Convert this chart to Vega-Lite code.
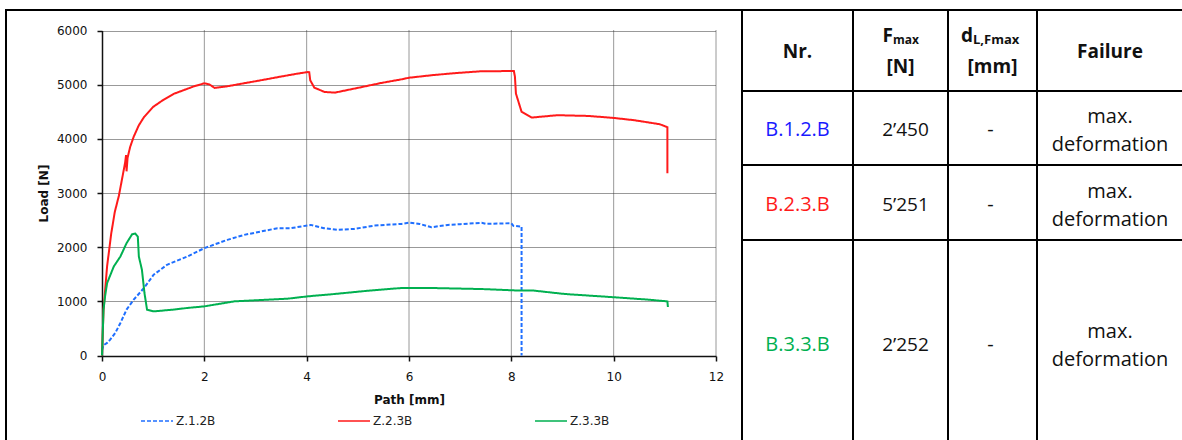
{
  "$schema": "https://vega.github.io/schema/vega-lite/v6.json",
  "padding": {"left": 5, "top": 9, "right": 0, "bottom": 0},
  "background": "white",
  "datasets": {
    "curves": [
      {"series": "Z.1.2B", "path": 0, "load": 100}, {"series": "Z.1.2B", "path": 0.03, "load": 190}, {"series": "Z.1.2B", "path": 0.1, "load": 233}, {"series": "Z.1.2B", "path": 0.16, "load": 294}, {"series": "Z.1.2B", "path": 0.26, "load": 417}, {"series": "Z.1.2B", "path": 0.36, "load": 601}, {"series": "Z.1.2B", "path": 0.48, "load": 847}, {"series": "Z.1.2B", "path": 0.62, "load": 1031}, {"series": "Z.1.2B", "path": 0.82, "load": 1246}, {"series": "Z.1.2B", "path": 1.01, "load": 1491}, {"series": "Z.1.2B", "path": 1.27, "load": 1675}, {"series": "Z.1.2B", "path": 1.67, "load": 1828}, {"series": "Z.1.2B", "path": 2.0, "load": 1982}, {"series": "Z.1.2B", "path": 2.45, "load": 2135}, {"series": "Z.1.2B", "path": 2.78, "load": 2227}, {"series": "Z.1.2B", "path": 3.1, "load": 2288}, {"series": "Z.1.2B", "path": 3.43, "load": 2350}, {"series": "Z.1.2B", "path": 3.69, "load": 2350}, {"series": "Z.1.2B", "path": 4.08, "load": 2411}, {"series": "Z.1.2B", "path": 4.34, "load": 2350}, {"series": "Z.1.2B", "path": 4.61, "load": 2319}, {"series": "Z.1.2B", "path": 4.93, "load": 2337}, {"series": "Z.1.2B", "path": 5.33, "load": 2398}, {"series": "Z.1.2B", "path": 5.85, "load": 2429}, {"series": "Z.1.2B", "path": 6.01, "load": 2453}, {"series": "Z.1.2B", "path": 6.21, "load": 2429}, {"series": "Z.1.2B", "path": 6.44, "load": 2368}, {"series": "Z.1.2B", "path": 6.76, "load": 2411}, {"series": "Z.1.2B", "path": 7.0, "load": 2425}, {"series": "Z.1.2B", "path": 7.42, "load": 2450}, {"series": "Z.1.2B", "path": 7.5, "load": 2430}, {"series": "Z.1.2B", "path": 8.0, "load": 2442}, {"series": "Z.1.2B", "path": 8.04, "load": 2393}, {"series": "Z.1.2B", "path": 8.2, "load": 2380}, {"series": "Z.1.2B", "path": 8.2, "load": 0},
      {"series": "Z.2.3B", "path": 0, "load": 0}, {"series": "Z.2.3B", "path": 0.03, "load": 850}, {"series": "Z.2.3B", "path": 0.1, "load": 1650}, {"series": "Z.2.3B", "path": 0.18, "load": 2250}, {"series": "Z.2.3B", "path": 0.25, "load": 2650}, {"series": "Z.2.3B", "path": 0.33, "load": 2950}, {"series": "Z.2.3B", "path": 0.4, "load": 3300}, {"series": "Z.2.3B", "path": 0.45, "load": 3550}, {"series": "Z.2.3B", "path": 0.47, "load": 3700}, {"series": "Z.2.3B", "path": 0.48, "load": 3400}, {"series": "Z.2.3B", "path": 0.5, "load": 3650}, {"series": "Z.2.3B", "path": 0.55, "load": 3850}, {"series": "Z.2.3B", "path": 0.62, "load": 4040}, {"series": "Z.2.3B", "path": 0.72, "load": 4250}, {"series": "Z.2.3B", "path": 0.82, "load": 4400}, {"series": "Z.2.3B", "path": 1.0, "load": 4590}, {"series": "Z.2.3B", "path": 1.2, "load": 4720}, {"series": "Z.2.3B", "path": 1.4, "load": 4830}, {"series": "Z.2.3B", "path": 1.6, "load": 4900}, {"series": "Z.2.3B", "path": 1.8, "load": 4970}, {"series": "Z.2.3B", "path": 2.0, "load": 5025}, {"series": "Z.2.3B", "path": 2.1, "load": 5005}, {"series": "Z.2.3B", "path": 2.2, "load": 4940}, {"series": "Z.2.3B", "path": 2.45, "load": 4970}, {"series": "Z.2.3B", "path": 2.8, "load": 5030}, {"series": "Z.2.3B", "path": 3.1, "load": 5080}, {"series": "Z.2.3B", "path": 3.5, "load": 5150}, {"series": "Z.2.3B", "path": 3.8, "load": 5200}, {"series": "Z.2.3B", "path": 4.02, "load": 5233}, {"series": "Z.2.3B", "path": 4.05, "load": 5230}, {"series": "Z.2.3B", "path": 4.07, "load": 5080}, {"series": "Z.2.3B", "path": 4.15, "load": 4945}, {"series": "Z.2.3B", "path": 4.35, "load": 4865}, {"series": "Z.2.3B", "path": 4.55, "load": 4853}, {"series": "Z.2.3B", "path": 4.93, "load": 4927}, {"series": "Z.2.3B", "path": 5.45, "load": 5030}, {"series": "Z.2.3B", "path": 5.85, "load": 5098}, {"series": "Z.2.3B", "path": 6.0, "load": 5128}, {"series": "Z.2.3B", "path": 6.5, "load": 5180}, {"series": "Z.2.3B", "path": 7.0, "load": 5220}, {"series": "Z.2.3B", "path": 7.42, "load": 5248}, {"series": "Z.2.3B", "path": 8.0, "load": 5251}, {"series": "Z.2.3B", "path": 8.05, "load": 5251}, {"series": "Z.2.3B", "path": 8.07, "load": 5150}, {"series": "Z.2.3B", "path": 8.09, "load": 4835}, {"series": "Z.2.3B", "path": 8.2, "load": 4500}, {"series": "Z.2.3B", "path": 8.4, "load": 4393}, {"series": "Z.2.3B", "path": 8.9, "load": 4436}, {"series": "Z.2.3B", "path": 9.5, "load": 4423}, {"series": "Z.2.3B", "path": 10.0, "load": 4386}, {"series": "Z.2.3B", "path": 10.4, "load": 4344}, {"series": "Z.2.3B", "path": 10.9, "load": 4270}, {"series": "Z.2.3B", "path": 11.05, "load": 4215}, {"series": "Z.2.3B", "path": 11.05, "load": 3365},
      {"series": "Z.3.3B", "path": 0, "load": 0}, {"series": "Z.3.3B", "path": 0.03, "load": 847}, {"series": "Z.3.3B", "path": 0.06, "load": 1092}, {"series": "Z.3.3B", "path": 0.1, "load": 1338}, {"series": "Z.3.3B", "path": 0.23, "load": 1643}, {"series": "Z.3.3B", "path": 0.36, "load": 1828}, {"series": "Z.3.3B", "path": 0.48, "load": 2074}, {"series": "Z.3.3B", "path": 0.59, "load": 2240}, {"series": "Z.3.3B", "path": 0.65, "load": 2252}, {"series": "Z.3.3B", "path": 0.7, "load": 2196}, {"series": "Z.3.3B", "path": 0.72, "load": 1828}, {"series": "Z.3.3B", "path": 0.78, "load": 1583}, {"series": "Z.3.3B", "path": 0.83, "load": 1154}, {"series": "Z.3.3B", "path": 0.88, "load": 847}, {"series": "Z.3.3B", "path": 1.01, "load": 815}, {"series": "Z.3.3B", "path": 1.4, "load": 847}, {"series": "Z.3.3B", "path": 1.67, "load": 878}, {"series": "Z.3.3B", "path": 2.0, "load": 907}, {"series": "Z.3.3B", "path": 2.58, "load": 999}, {"series": "Z.3.3B", "path": 3.24, "load": 1031}, {"series": "Z.3.3B", "path": 3.63, "load": 1049}, {"series": "Z.3.3B", "path": 4.02, "load": 1092}, {"series": "Z.3.3B", "path": 4.54, "load": 1135}, {"series": "Z.3.3B", "path": 5.2, "load": 1196}, {"series": "Z.3.3B", "path": 5.85, "load": 1246}, {"series": "Z.3.3B", "path": 6.01, "load": 1246}, {"series": "Z.3.3B", "path": 6.44, "load": 1246}, {"series": "Z.3.3B", "path": 7.42, "load": 1227}, {"series": "Z.3.3B", "path": 8.07, "load": 1202}, {"series": "Z.3.3B", "path": 8.4, "load": 1202}, {"series": "Z.3.3B", "path": 9.05, "load": 1135}, {"series": "Z.3.3B", "path": 10.03, "load": 1074}, {"series": "Z.3.3B", "path": 10.68, "load": 1031}, {"series": "Z.3.3B", "path": 11.05, "load": 999}, {"series": "Z.3.3B", "path": 11.06, "load": 896}
    ],
    "xgrid": [{"g": 2}, {"g": 4}, {"g": 6}, {"g": 8}, {"g": 10}, {"g": 12}],
    "header": [
      {"key": "Nr", "label": "Nr."},
      {"key": "Fmax", "label": "F", "sub": "max", "unit": "[N]"},
      {"key": "d", "label": "d", "sub": "L,Fmax", "unit": "[mm]"},
      {"key": "Failure", "label": "Failure"}
    ],
    "table": [
      {"Nr": "B.1.2.B", "Fmax": "2’450", "d": "-", "Failure": "max.\ndeformation"},
      {"Nr": "B.2.3.B", "Fmax": "5’251", "d": "-", "Failure": "max.\ndeformation"},
      {"Nr": "B.3.3.B", "Fmax": "2’252", "d": "-", "Failure": "max.\ndeformation"}
    ]
  },
  "spacing": 0,
  "bounds": "flush",
  "resolve": {"scale": {"color": "independent", "strokeDash": "independent"}},
  "hconcat": [
    {
      "width": 736,
      "height": 435,
      "layer": [
        {
          "data": {"name": "xgrid"},
          "mark": {"type": "rule", "color": "#333", "strokeWidth": 1, "strokeDash": [1, 1]},
          "encoding": {
            "x": {"field": "g", "type": "quantitative", "title": "Path [mm]"},
            "y": {"datum": 0},
            "y2": {"datum": 6000}
          }
        },
        {
          "data": {"name": "curves"},
          "mark": {"type": "line", "strokeWidth": 2},
          "encoding": {
            "x": {
              "field": "path", "type": "quantitative", "title": "Path [mm]",
              "scale": {"domain": [0, 12], "range": [96, 710], "nice": false, "zero": false},
              "axis": {"orient": "bottom", "offset": -89, "grid": false, "format": "d", "values": [0, 2, 4, 6, 8, 10, 12], "title": "Path [mm]", "titlePadding": 12}
            },
            "y": {
              "field": "load", "type": "quantitative", "title": "Load [N]",
              "scale": {"domain": [0, 6000], "range": [345.5, 20.5], "nice": false},
              "axis": {"orient": "left", "offset": -96, "grid": true, "format": "d", "values": [0, 1000, 2000, 3000, 4000, 5000, 6000], "title": "Load [N]", "titlePadding": 6}
            },
            "color": {
              "field": "series", "type": "nominal",
              "scale": {"domain": ["Z.1.2B", "Z.2.3B", "Z.3.3B"], "range": ["#1f6fff", "#ff1a1a", "#00b050"]},
              "legend": {"orient": "none", "legendX": 134, "legendY": 394, "direction": "horizontal", "title": null, "symbolType": "stroke", "symbolSize": 1024, "symbolStrokeWidth": 1.5, "labelOffset": 2, "columnPadding": 119, "labelFont": "DejaVu Sans", "labelFontSize": 12, "labelColor": "#222"}
            },
            "strokeDash": {
              "field": "series", "type": "nominal",
              "scale": {"domain": ["Z.1.2B", "Z.2.3B", "Z.3.3B"], "range": [[4, 2], [1, 0], [1, 0]]}
            },
            "order": {"value": null}
          }
        }
      ]
    },
    {
      "concat": [
        {"width": 111, "height": 81, "data": {"name": "header"}, "transform": [{"filter": "datum.key === 'Nr'"}], "layer": [
          {"mark": {"type": "rect", "fill": null, "stroke": "black", "strokeWidth": 2}},
          {"mark": {"type": "text", "fontWeight": "bold", "fontSize": 19, "dy": 1}, "encoding": {"text": {"field": "label"}}}
        ]},
        {"width": 95, "height": 81, "data": {"name": "header"}, "transform": [{"filter": "datum.key === 'Fmax'"}], "layer": [
          {"mark": {"type": "rect", "fill": null, "stroke": "black", "strokeWidth": 2}},
          {"mark": {"type": "text", "fontWeight": "bold", "fontSize": 19, "align": "right", "baseline": "alphabetic", "dx": -7.5, "dy": -8.5}, "encoding": {"text": {"field": "label"}}},
          {"mark": {"type": "text", "fontWeight": "bold", "fontSize": 12, "align": "left", "baseline": "alphabetic", "dx": -7.5, "dy": -6.5}, "encoding": {"text": {"field": "sub"}}},
          {"mark": {"type": "text", "fontWeight": "bold", "fontSize": 19, "baseline": "alphabetic", "dy": 22.5}, "encoding": {"text": {"field": "unit"}}}
        ]},
        {"width": 89, "height": 81, "data": {"name": "header"}, "transform": [{"filter": "datum.key === 'd'"}], "layer": [
          {"mark": {"type": "rect", "fill": null, "stroke": "black", "strokeWidth": 2}},
          {"mark": {"type": "text", "fontWeight": "bold", "fontSize": 19, "align": "right", "baseline": "alphabetic", "dx": -19.5, "dy": -8.5}, "encoding": {"text": {"field": "label"}}},
          {"mark": {"type": "text", "fontWeight": "bold", "fontSize": 13, "align": "left", "baseline": "alphabetic", "dx": -19.5, "dy": -6.5}, "encoding": {"text": {"field": "sub"}}},
          {"mark": {"type": "text", "fontWeight": "bold", "fontSize": 19, "baseline": "alphabetic", "dy": 22.5}, "encoding": {"text": {"field": "unit"}}}
        ]},
        {"width": 146, "height": 81, "data": {"name": "header"}, "transform": [{"filter": "datum.key === 'Failure'"}], "layer": [
          {"mark": {"type": "rect", "fill": null, "stroke": "black", "strokeWidth": 2}},
          {"mark": {"type": "text", "fontWeight": "bold", "fontSize": 19, "dy": 1}, "encoding": {"text": {"field": "label"}}}
        ]},

        {"width": 111, "height": 74, "data": {"name": "table"}, "transform": [{"filter": "datum.Nr === 'B.1.2.B'"}], "layer": [
          {"mark": {"type": "rect", "fill": null, "stroke": "black", "strokeWidth": 2}},
          {"mark": {"type": "text", "color": "#1a1aff", "dy": 2}, "encoding": {"text": {"field": "Nr"}}}
        ]},
        {"width": 95, "height": 74, "data": {"name": "table"}, "transform": [{"filter": "datum.Nr === 'B.1.2.B'"}], "layer": [
          {"mark": {"type": "rect", "fill": null, "stroke": "black", "strokeWidth": 2}},
          {"mark": {"type": "text", "fontSize": 19, "dx": 5, "dy": 2}, "encoding": {"text": {"field": "Fmax"}}}
        ]},
        {"width": 89, "height": 74, "data": {"name": "table"}, "transform": [{"filter": "datum.Nr === 'B.1.2.B'"}], "layer": [
          {"mark": {"type": "rect", "fill": null, "stroke": "black", "strokeWidth": 2}},
          {"mark": {"type": "text", "dx": -2, "dy": 2}, "encoding": {"text": {"field": "d"}}}
        ]},
        {"width": 146, "height": 74, "data": {"name": "table"}, "transform": [{"filter": "datum.Nr === 'B.1.2.B'"}], "layer": [
          {"mark": {"type": "rect", "fill": null, "stroke": "black", "strokeWidth": 2}},
          {"mark": {"type": "text", "dy": -11, "lineBreak": "\n", "lineHeight": 28}, "encoding": {"text": {"field": "Failure"}}}
        ]},

        {"width": 111, "height": 75, "data": {"name": "table"}, "transform": [{"filter": "datum.Nr === 'B.2.3.B'"}], "layer": [
          {"mark": {"type": "rect", "fill": null, "stroke": "black", "strokeWidth": 2}},
          {"mark": {"type": "text", "color": "#ff1a1a", "dy": 2}, "encoding": {"text": {"field": "Nr"}}}
        ]},
        {"width": 95, "height": 75, "data": {"name": "table"}, "transform": [{"filter": "datum.Nr === 'B.2.3.B'"}], "layer": [
          {"mark": {"type": "rect", "fill": null, "stroke": "black", "strokeWidth": 2}},
          {"mark": {"type": "text", "fontSize": 19, "dx": 5, "dy": 2}, "encoding": {"text": {"field": "Fmax"}}}
        ]},
        {"width": 89, "height": 75, "data": {"name": "table"}, "transform": [{"filter": "datum.Nr === 'B.2.3.B'"}], "layer": [
          {"mark": {"type": "rect", "fill": null, "stroke": "black", "strokeWidth": 2}},
          {"mark": {"type": "text", "dx": -2, "dy": 2}, "encoding": {"text": {"field": "d"}}}
        ]},
        {"width": 146, "height": 75, "data": {"name": "table"}, "transform": [{"filter": "datum.Nr === 'B.2.3.B'"}], "layer": [
          {"mark": {"type": "rect", "fill": null, "stroke": "black", "strokeWidth": 2}},
          {"mark": {"type": "text", "dy": -11, "lineBreak": "\n", "lineHeight": 28}, "encoding": {"text": {"field": "Failure"}}}
        ]},

        {"width": 111, "height": 205, "data": {"name": "table"}, "transform": [{"filter": "datum.Nr === 'B.3.3.B'"}], "layer": [
          {"mark": {"type": "rect", "fill": null, "stroke": "black", "strokeWidth": 2}},
          {"mark": {"type": "text", "color": "#00b050", "dy": 2}, "encoding": {"text": {"field": "Nr"}}}
        ]},
        {"width": 95, "height": 205, "data": {"name": "table"}, "transform": [{"filter": "datum.Nr === 'B.3.3.B'"}], "layer": [
          {"mark": {"type": "rect", "fill": null, "stroke": "black", "strokeWidth": 2}},
          {"mark": {"type": "text", "fontSize": 19, "dx": 5, "dy": 2}, "encoding": {"text": {"field": "Fmax"}}}
        ]},
        {"width": 89, "height": 205, "data": {"name": "table"}, "transform": [{"filter": "datum.Nr === 'B.3.3.B'"}], "layer": [
          {"mark": {"type": "rect", "fill": null, "stroke": "black", "strokeWidth": 2}},
          {"mark": {"type": "text", "dx": -2, "dy": 2}, "encoding": {"text": {"field": "d"}}}
        ]},
        {"width": 146, "height": 205, "data": {"name": "table"}, "transform": [{"filter": "datum.Nr === 'B.3.3.B'"}], "layer": [
          {"mark": {"type": "rect", "fill": null, "stroke": "black", "strokeWidth": 2}},
          {"mark": {"type": "text", "dy": -11, "lineBreak": "\n", "lineHeight": 28}, "encoding": {"text": {"field": "Failure"}}}
        ]}
      ],
      "columns": 4,
      "spacing": 0,
      "bounds": "flush"
    }
  ],
  "config": {
    "view": {"stroke": "black", "strokeWidth": 2},
    "text": {"font": "Open Sans", "fontSize": 20, "color": "#111"},
    "axis": {
      "gridDash": [1, 1], "gridColor": "#333", "gridWidth": 1,
      "domainColor": "#111", "domainWidth": 1.5, "tickColor": "#111", "tickSize": 5, "tickWidth": 1.5,
      "labelFont": "DejaVu Sans", "labelFontSize": 12, "labelColor": "#111", "labelPadding": 10,
      "labelFlush": false, "labelOverlap": false,
      "titleFont": "DejaVu Sans", "titleFontSize": 12, "titleFontWeight": "bold", "titleColor": "#111"
    }
  }
}
